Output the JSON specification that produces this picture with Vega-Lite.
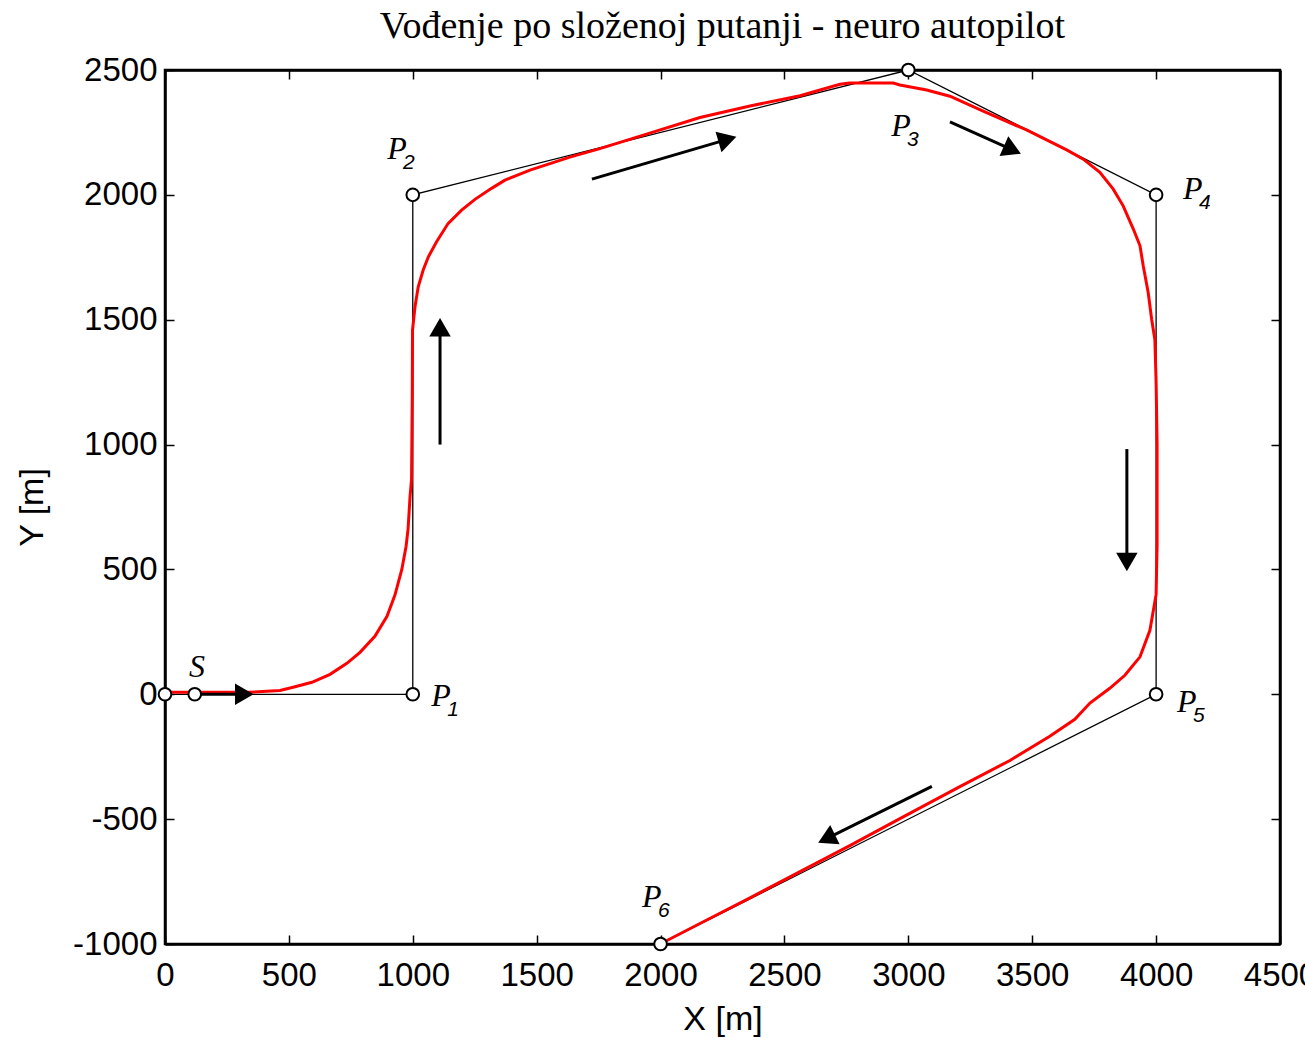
{
  "$schema": "https://vega.github.io/schema/vega-lite/v6.json",
  "width": 1115,
  "height": 874,
  "autosize": {"type": "none"},
  "padding": {"left": 165, "top": 70, "right": 25, "bottom": 94},
  "background": "white",
  "title": {"text": "Vođenje po složenoj putanji - neuro autopilot", "font": "Liberation Serif", "fontSize": 38, "fontWeight": "normal", "color": "black", "offset": 8, "anchor": "middle"},
  "config": {
    "view": {"stroke": "black", "strokeWidth": 2.5},
    "axis": {"domainColor": "black", "domainWidth": 2.5, "tickColor": "black", "tickSize": -9, "tickWidth": 1.5, "labelFont": "Liberation Sans", "labelFontSize": 33, "labelColor": "black", "titleFont": "Liberation Sans", "titleFontSize": 34, "titleFontWeight": "normal", "titleColor": "black", "grid": false, "labelOverlap": false, "labelFlush": false, "labelExpr": "'' + datum.value"}
  },
  "datasets": {
    "path": [
      {"i": 0, "x": 0, "y": 0}, {"i": 1, "x": 1000, "y": 0}, {"i": 2, "x": 1000, "y": 2000}, {"i": 3, "x": 3000, "y": 2500},
      {"i": 4, "x": 4000, "y": 2000}, {"i": 5, "x": 4000, "y": 0}, {"i": 6, "x": 2000, "y": -1000}
    ],
    "nodes": [
      {"x": 0, "y": 0}, {"x": 120, "y": 0}, {"x": 1000, "y": 0}, {"x": 1000, "y": 2000}, {"x": 3000, "y": 2500},
      {"x": 4000, "y": 2000}, {"x": 4000, "y": 0}, {"x": 2000, "y": -1000}
    ],
    "labels": [
      {"lab": "S", "sub": "", "x": 129, "y": 108},
      {"lab": "P", "sub": "1", "x": 1114, "y": -8},
      {"lab": "P", "sub": "2", "x": 936, "y": 2183},
      {"lab": "P", "sub": "3", "x": 2970, "y": 2276},
      {"lab": "P", "sub": "4", "x": 4148, "y": 2023},
      {"lab": "P", "sub": "5", "x": 4124, "y": -32},
      {"lab": "P", "sub": "6", "x": 1965, "y": -813}
    ],
    "arrows": [
      {"x": 120, "y": 0, "x2": 320, "y2": 0, "heading": 90},
      {"x": 1110, "y": 1000, "x2": 1110, "y2": 1470, "heading": 0},
      {"x": 1723, "y": 2063, "x2": 2270, "y2": 2222, "heading": 74},
      {"x": 3168, "y": 2292, "x2": 3420, "y2": 2180, "heading": 114},
      {"x": 3882, "y": 982, "x2": 3882, "y2": 530, "heading": 180},
      {"x": 3095, "y": -369, "x2": 2670, "y2": -578, "heading": 244}
    ],
    "red": [
      {"i": 0, "x": 0, "y": 8}, {"i": 1, "x": 340, "y": 8}, {"i": 2, "x": 464, "y": 15}, {"i": 3, "x": 517, "y": 28},
      {"i": 4, "x": 593, "y": 48}, {"i": 5, "x": 666, "y": 80}, {"i": 6, "x": 734, "y": 124}, {"i": 7, "x": 787, "y": 168},
      {"i": 8, "x": 847, "y": 232}, {"i": 9, "x": 896, "y": 312}, {"i": 10, "x": 928, "y": 397}, {"i": 11, "x": 956, "y": 501},
      {"i": 12, "x": 973, "y": 593}, {"i": 13, "x": 981, "y": 661}, {"i": 14, "x": 989, "y": 793}, {"i": 15, "x": 995, "y": 861},
      {"i": 16, "x": 998, "y": 1200}, {"i": 17, "x": 999, "y": 1458}, {"i": 18, "x": 1009, "y": 1552}, {"i": 19, "x": 1022, "y": 1632},
      {"i": 20, "x": 1042, "y": 1699}, {"i": 21, "x": 1063, "y": 1752}, {"i": 22, "x": 1096, "y": 1812}, {"i": 23, "x": 1143, "y": 1886},
      {"i": 24, "x": 1197, "y": 1939}, {"i": 25, "x": 1251, "y": 1982}, {"i": 26, "x": 1318, "y": 2026}, {"i": 27, "x": 1372, "y": 2059},
      {"i": 28, "x": 1473, "y": 2099}, {"i": 29, "x": 1634, "y": 2151}, {"i": 30, "x": 1755, "y": 2185}, {"i": 31, "x": 1950, "y": 2245},
      {"i": 32, "x": 2159, "y": 2310}, {"i": 33, "x": 2361, "y": 2356}, {"i": 34, "x": 2563, "y": 2397}, {"i": 35, "x": 2724, "y": 2443},
      {"i": 36, "x": 2764, "y": 2448}, {"i": 37, "x": 2939, "y": 2448}, {"i": 38, "x": 2966, "y": 2440}, {"i": 39, "x": 3074, "y": 2420},
      {"i": 40, "x": 3168, "y": 2395}, {"i": 41, "x": 3302, "y": 2335}, {"i": 42, "x": 3477, "y": 2260}, {"i": 43, "x": 3639, "y": 2180},
      {"i": 44, "x": 3706, "y": 2143}, {"i": 45, "x": 3773, "y": 2090}, {"i": 46, "x": 3827, "y": 2023}, {"i": 47, "x": 3867, "y": 1956},
      {"i": 48, "x": 3908, "y": 1863}, {"i": 49, "x": 3935, "y": 1796}, {"i": 50, "x": 3948, "y": 1716}, {"i": 51, "x": 3968, "y": 1609},
      {"i": 52, "x": 3982, "y": 1502}, {"i": 53, "x": 3995, "y": 1420}, {"i": 54, "x": 4000, "y": 1250}, {"i": 55, "x": 4004, "y": 1000},
      {"i": 56, "x": 4004, "y": 600}, {"i": 57, "x": 4000, "y": 400}, {"i": 58, "x": 3975, "y": 256}, {"i": 59, "x": 3935, "y": 150},
      {"i": 60, "x": 3874, "y": 76}, {"i": 61, "x": 3813, "y": 24}, {"i": 62, "x": 3733, "y": -35}, {"i": 63, "x": 3672, "y": -100},
      {"i": 64, "x": 3571, "y": -168}, {"i": 65, "x": 3410, "y": -265}, {"i": 66, "x": 3208, "y": -370}, {"i": 67, "x": 2966, "y": -498},
      {"i": 68, "x": 2764, "y": -606}, {"i": 69, "x": 2563, "y": -710}, {"i": 70, "x": 2361, "y": -815}, {"i": 71, "x": 2159, "y": -918},
      {"i": 72, "x": 2018, "y": -990}
    ]
  },
  "layer": [
    {
      "data": {"name": "path"},
      "mark": {"type": "line", "color": "black", "strokeWidth": 1.3},
      "encoding": {
        "x": {"field": "x", "type": "quantitative", "scale": {"domain": [0, 4500], "nice": false, "zero": false},
              "axis": {"title": "X [m]", "values": [0, 500, 1000, 1500, 2000, 2500, 3000, 3500, 4000, 4500], "labelPadding": 24, "titlePadding": 10}},
        "y": {"field": "y", "type": "quantitative", "scale": {"domain": [-1000, 2500], "nice": false, "zero": false},
              "axis": {"title": "Y [m]", "values": [-1000, -500, 0, 500, 1000, 1500, 2000, 2500], "labelPadding": 17, "titlePadding": 23}},
        "order": {"field": "i"}
      }
    },
    {
      "data": {"name": "red"},
      "mark": {"type": "line", "color": "#ff0000", "strokeWidth": 3},
      "encoding": {
        "x": {"field": "x", "type": "quantitative", "scale": {"domain": [0, 4500], "nice": false, "zero": false}, "axis": null},
        "y": {"field": "y", "type": "quantitative", "scale": {"domain": [-1000, 2500], "nice": false, "zero": false}, "axis": null},
        "order": {"field": "i"}
      }
    },
    {
      "data": {"name": "arrows"},
      "mark": {"type": "rule", "color": "black", "strokeWidth": 3},
      "encoding": {
        "x": {"field": "x", "type": "quantitative", "scale": {"domain": [0, 4500], "nice": false, "zero": false}, "axis": null},
        "y": {"field": "y", "type": "quantitative", "scale": {"domain": [-1000, 2500], "nice": false, "zero": false}, "axis": null},
        "x2": {"field": "x2"},
        "y2": {"field": "y2"}
      }
    },
    {
      "data": {"name": "arrows"},
      "mark": {"type": "point", "shape": "triangle-up", "filled": true, "color": "black", "size": 460, "opacity": 1},
      "encoding": {
        "x": {"field": "x2", "type": "quantitative", "scale": {"domain": [0, 4500], "nice": false, "zero": false}, "axis": null},
        "y": {"field": "y2", "type": "quantitative", "scale": {"domain": [-1000, 2500], "nice": false, "zero": false}, "axis": null},
        "angle": {"field": "heading", "type": "quantitative", "scale": null}
      }
    },
    {
      "data": {"name": "nodes"},
      "mark": {"type": "point", "shape": "circle", "filled": true, "fill": "white", "stroke": "black", "strokeWidth": 2, "size": 160, "opacity": 1},
      "encoding": {
        "x": {"field": "x", "type": "quantitative", "scale": {"domain": [0, 4500], "nice": false, "zero": false}, "axis": null},
        "y": {"field": "y", "type": "quantitative", "scale": {"domain": [-1000, 2500], "nice": false, "zero": false}, "axis": null}
      }
    },
    {
      "data": {"name": "labels"},
      "mark": {"type": "text", "font": "Liberation Serif", "fontStyle": "italic", "fontSize": 32, "color": "black", "align": "center", "baseline": "middle"},
      "encoding": {
        "x": {"field": "x", "type": "quantitative", "scale": {"domain": [0, 4500], "nice": false, "zero": false}, "axis": null},
        "y": {"field": "y", "type": "quantitative", "scale": {"domain": [-1000, 2500], "nice": false, "zero": false}, "axis": null},
        "text": {"field": "lab"}
      }
    },
    {
      "data": {"name": "labels"},
      "mark": {"type": "text", "font": "Liberation Sans", "fontStyle": "italic", "fontSize": 21, "color": "black", "align": "center", "baseline": "middle", "dx": 12, "dy": 14},
      "encoding": {
        "x": {"field": "x", "type": "quantitative", "scale": {"domain": [0, 4500], "nice": false, "zero": false}, "axis": null},
        "y": {"field": "y", "type": "quantitative", "scale": {"domain": [-1000, 2500], "nice": false, "zero": false}, "axis": null},
        "text": {"field": "sub"}
      }
    },
    {
      "data": {"name": "nodes"},
      "mark": {"type": "point", "opacity": 0},
      "encoding": {
        "x": {"field": "x", "type": "quantitative", "scale": {"domain": [0, 4500], "nice": false, "zero": false},
              "axis": {"orient": "top", "labels": false, "title": null, "values": [0, 500, 1000, 1500, 2000, 2500, 3000, 3500, 4000, 4500]}},
        "y": {"field": "y", "type": "quantitative", "scale": {"domain": [-1000, 2500], "nice": false, "zero": false},
              "axis": {"orient": "right", "labels": false, "title": null, "values": [-1000, -500, 0, 500, 1000, 1500, 2000, 2500]}}
      }
    }
  ],
  "resolve": {"axis": {"x": "independent", "y": "independent"}}
}
